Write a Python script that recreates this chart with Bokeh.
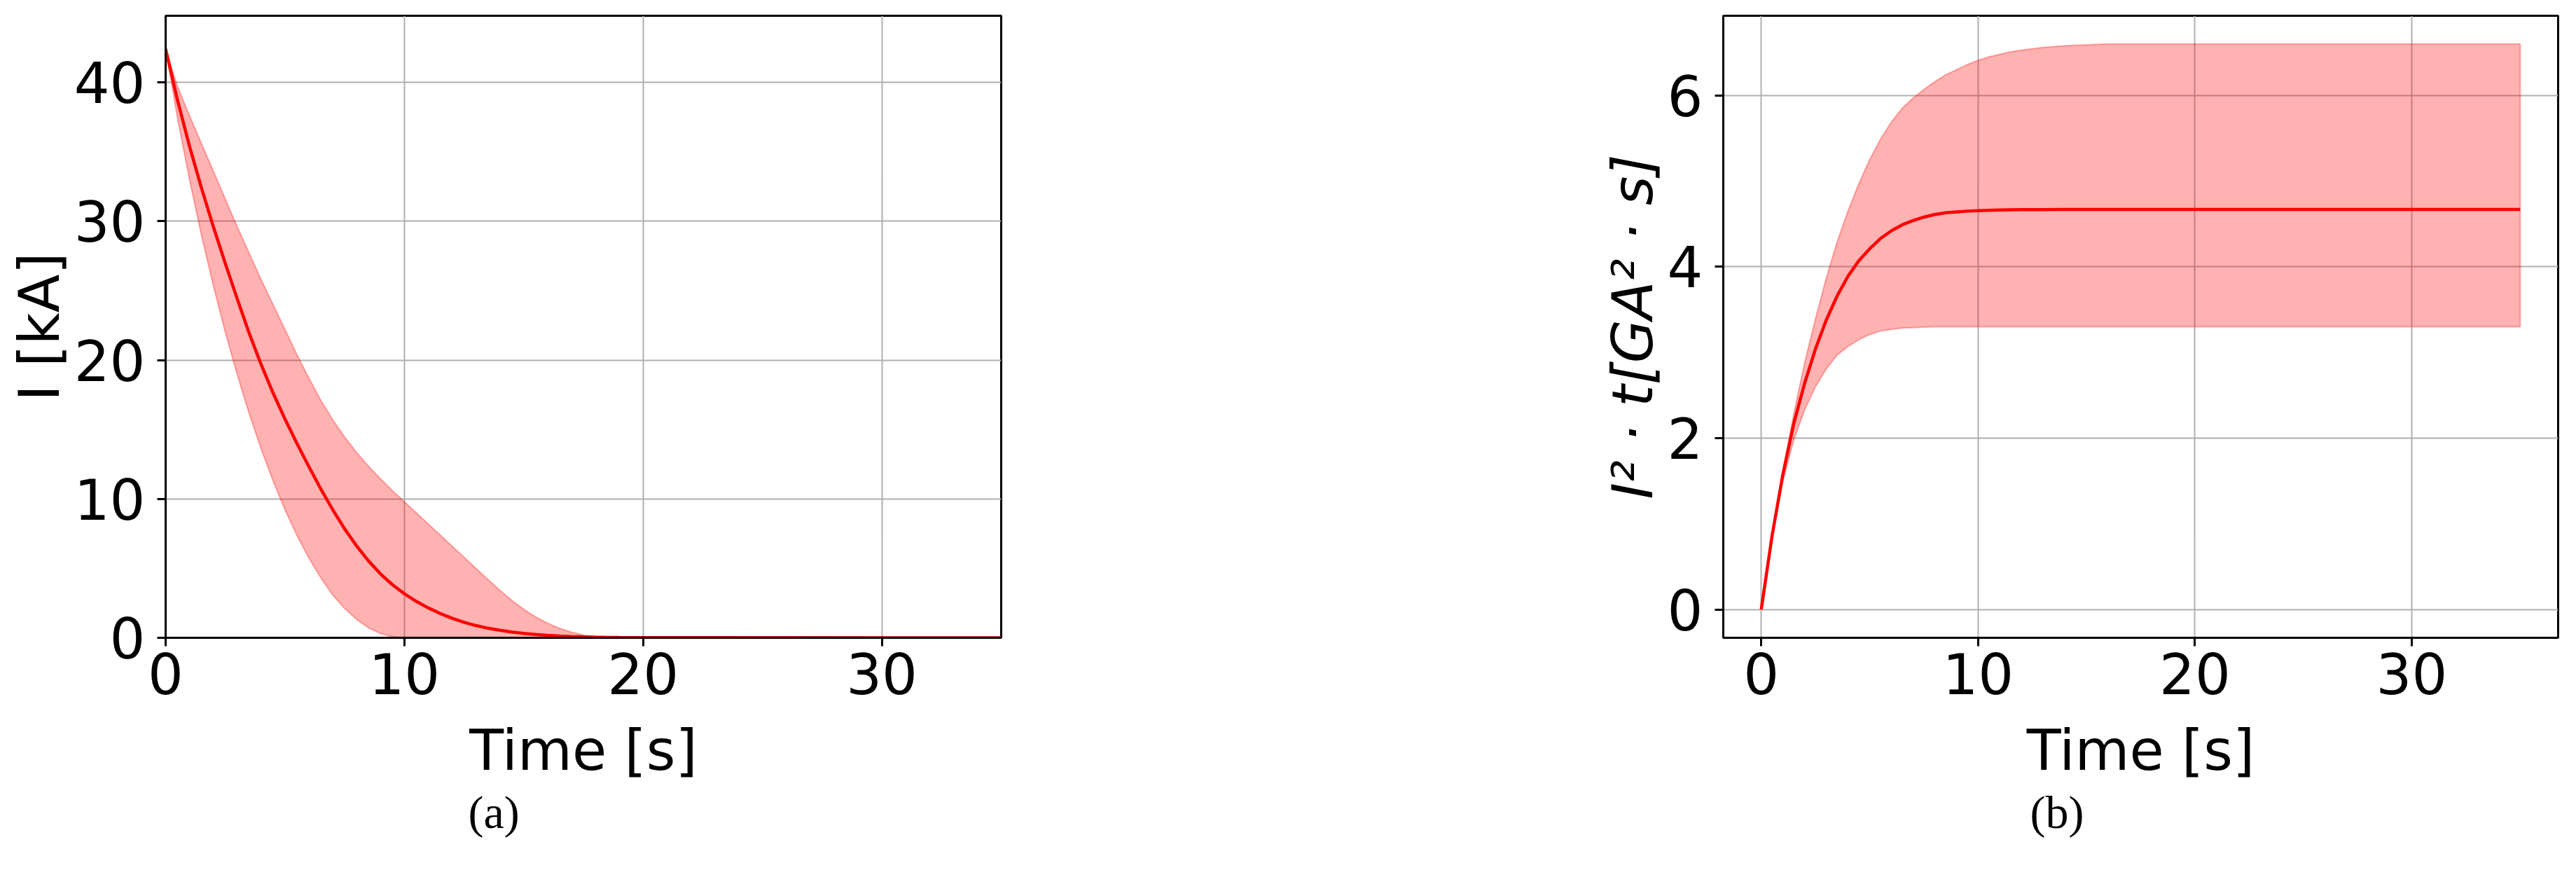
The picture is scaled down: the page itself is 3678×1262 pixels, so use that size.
from bokeh.plotting import figure
from bokeh.layouts import row
from bokeh.models import Range1d, FixedTicker, Title
from bokeh.embed import file_html
from bokeh.resources import INLINE

# ---------------- data: panel (a) current decay ----------------
time_a = [0.0, 0.5, 1.0, 1.5, 2.0, 2.5, 3.0, 3.5, 4.0, 4.5, 5.0, 5.5, 6.0, 6.5,
          7.0, 7.5, 8.0, 8.5, 9.0, 9.5, 10.0, 10.5, 11.0, 11.5, 12.0, 12.5, 13.0,
          13.5, 14.0, 14.5, 15.0, 15.5, 16.0, 16.5, 17.0, 17.5, 18.0, 18.5, 19.0,
          20.0, 35.0]
current_mean = [42.4, 38.7, 35.4, 32.4, 29.6, 26.95, 24.4, 21.93, 19.68, 17.63,
                15.75, 14.0, 12.32, 10.72, 9.22, 7.84, 6.61, 5.53, 4.6, 3.82, 3.17,
                2.62, 2.15, 1.75, 1.41, 1.12, 0.88, 0.69, 0.54, 0.42, 0.32, 0.24,
                0.18, 0.13, 0.09, 0.065, 0.045, 0.03, 0.02, 0.01, 0.0]
current_upper = [42.4, 39.7, 37.6, 35.6, 33.6, 31.6, 29.6, 27.7, 25.8, 24.0, 22.2,
                 20.4, 18.7, 17.1, 15.7, 14.45, 13.35, 12.35, 11.45, 10.6, 9.8, 9.0,
                 8.2, 7.4, 6.6, 5.8, 5.0, 4.2, 3.42, 2.7, 2.05, 1.5, 1.05, 0.68, 0.4,
                 0.2, 0.09, 0.03, 0.0, 0.0, 0.0]
current_lower = [42.4, 37.4, 33.0, 29.0, 25.35, 22.0, 18.95, 16.15, 13.6, 11.3,
                 9.22, 7.37, 5.74, 4.31, 3.08, 2.1, 1.32, 0.72, 0.3, 0.07, 0.0, 0.0,
                 0.0, 0.0, 0.0, 0.0, 0.0, 0.0, 0.0, 0.0, 0.0, 0.0, 0.0, 0.0, 0.0,
                 0.0, 0.0, 0.0, 0.0, 0.0, 0.0]

# ---------------- data: panel (b) I^2 t ----------------
time_b = [0.0, 0.5, 1.0, 1.5, 2.0, 2.5, 3.0, 3.5, 4.0, 4.5, 5.0, 5.5, 6.0, 6.5,
          7.0, 7.5, 8.0, 8.5, 9.0, 9.5, 10.0, 10.5, 11.0, 11.5, 12.0, 13.0, 14.0,
          15.0, 16.0, 20.0, 25.0, 30.0, 35.0]
i2t_mean = [0.0, 0.86, 1.58, 2.17, 2.64, 3.04, 3.38, 3.66, 3.89, 4.07, 4.21, 4.33,
            4.42, 4.49, 4.54, 4.58, 4.61, 4.63, 4.64, 4.65, 4.655, 4.66, 4.663,
            4.665, 4.667, 4.668, 4.669, 4.67, 4.67, 4.67, 4.67, 4.67, 4.67]
i2t_upper = [0.0, 0.86, 1.61, 2.28, 2.88, 3.39, 3.87, 4.29, 4.65, 4.97, 5.25, 5.49,
             5.69, 5.85, 5.97, 6.07, 6.16, 6.24, 6.3, 6.36, 6.41, 6.45, 6.48, 6.51,
             6.53, 6.56, 6.58, 6.59, 6.6, 6.6, 6.6, 6.6, 6.6]
i2t_lower = [0.0, 0.84, 1.5, 1.98, 2.33, 2.6, 2.81, 2.97, 3.07, 3.15, 3.21, 3.25,
             3.27, 3.285, 3.29, 3.295, 3.3, 3.3, 3.3, 3.3, 3.3, 3.3, 3.3, 3.3, 3.3,
             3.3, 3.3, 3.3, 3.3, 3.3, 3.3, 3.3, 3.3]

x_ticks_a = [0, 10, 20, 30]
y_ticks_a = [0, 10, 20, 30, 40]
x_ticks_b = [0, 10, 20, 30]
y_ticks_b = [0, 2, 4, 6]

FONT = "DejaVu Sans"
FS = "80px"


def style(p, xlabel, ylabel, y_italic=False):
    p.outline_line_color = "black"
    p.outline_line_width = 3
    p.outline_line_alpha = 1.0
    p.background_fill_color = "white"
    p.border_fill_color = "white"
    p.xaxis.axis_label = xlabel
    p.yaxis.axis_label = ylabel
    for ax in (p.xaxis[0], p.yaxis[0]):
        ax.axis_line_width = 3
        ax.axis_line_color = "black"
        ax.major_tick_line_width = 3
        ax.major_tick_line_color = "black"
        ax.major_tick_out = 12
        ax.major_tick_in = 0
        ax.minor_tick_out = 0
        ax.minor_tick_in = 0
        ax.major_label_text_font = FONT
        ax.major_label_text_font_size = FS
        ax.major_label_text_color = "black"
        ax.axis_label_text_font = FONT
        ax.axis_label_text_font_size = FS
        ax.axis_label_text_color = "black"
        ax.axis_label_text_font_style = "normal"
    p.xaxis[0].major_label_standoff = 9
    p.xaxis[0].axis_label_standoff = 31
    p.yaxis[0].major_label_standoff = 17
    p.yaxis[0].axis_label_standoff = 0
    if y_italic:
        p.yaxis[0].axis_label_text_font_style = "italic"
    p.xgrid.grid_line_color = "#b0b0b0"
    p.ygrid.grid_line_color = "#b0b0b0"
    p.xgrid.grid_line_width = 2
    p.ygrid.grid_line_width = 2


# ---------------- figure (a) ----------------
pa = figure(frame_width=1193, frame_height=888, output_backend="svg",
            toolbar_location=None, x_range=Range1d(0, 35), y_range=Range1d(0, 44.8),
            min_border_left=236, min_border_right=21, min_border_top=22,
            min_border_bottom=290)
style(pa, "Time [s]", "I [kA]")
pa.xaxis.ticker = FixedTicker(ticks=x_ticks_a)
pa.yaxis.ticker = FixedTicker(ticks=y_ticks_a)
pa.patch(x=time_a + time_a[::-1], y=current_upper + current_lower[::-1],
         fill_color="red", fill_alpha=0.3, line_color="red", line_alpha=0.3,
         line_width=2)
pa.line(x=time_a, y=current_mean, line_color="red", line_width=4.5)
cap_a = Title(text="(a)", align="left", offset=432, standoff=0,
              text_font="Liberation Serif", text_font_size="66px",
              text_font_style="normal", text_color="black")
pa.add_layout(cap_a, "below")

# ---------------- figure (b) ----------------
pb = figure(frame_width=1192, frame_height=888, output_backend="svg",
            toolbar_location=None, x_range=Range1d(-1.75, 36.75),
            y_range=Range1d(-0.33, 6.93),
            min_border_left=1010, min_border_right=8, min_border_top=22,
            min_border_bottom=290)
style(pb, "Time [s]", "I² · t[GA² · s]", y_italic=True)
pb.xaxis.ticker = FixedTicker(ticks=x_ticks_b)
pb.yaxis.ticker = FixedTicker(ticks=y_ticks_b)
pb.patch(x=time_b + time_b[::-1], y=i2t_upper + i2t_lower[::-1],
         fill_color="red", fill_alpha=0.3, line_color="red", line_alpha=0.3,
         line_width=2)
pb.line(x=time_b, y=i2t_mean, line_color="red", line_width=4.5)
cap_b = Title(text="(b)", align="left", offset=438, standoff=0,
              text_font="Liberation Serif", text_font_size="66px",
              text_font_style="normal", text_color="black")
pb.add_layout(cap_b, "below")

layout = row(pa, pb)
open("out.html", "w").write(file_html(layout, INLINE))
